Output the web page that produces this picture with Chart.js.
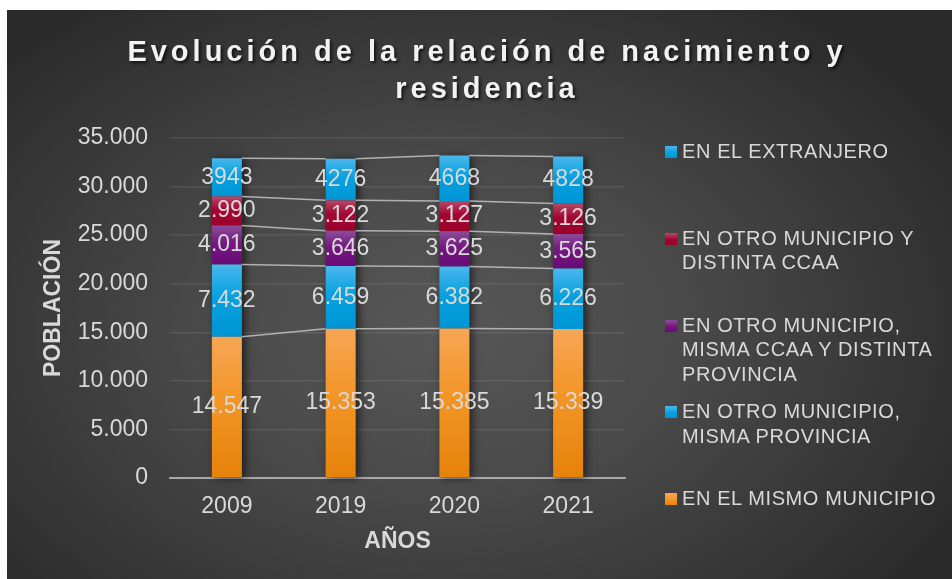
<!DOCTYPE html>
<html>
<head>
<meta charset="utf-8">
<script src="https://cdn.jsdelivr.net/npm/chart.js@4.4.1/dist/chart.umd.min.js"></script>
<style>
  html, body { margin: 0; padding: 0; background: #ffffff; }
  #wrap { position: relative; width: 952px; height: 579px; overflow: hidden; font-family: "Liberation Sans", Arial, sans-serif; }
  #panel { position: absolute; left: 7px; top: 10px; right: 0; bottom: 0;
    background: radial-gradient(ellipse 62% 70% at 46% 56%, #575757 0%, #4a4a4a 40%, #2b2b2b 100%); }
  #cv { position: absolute; left: 0; top: 0; width: 952px; height: 579px; }
  #title { position: absolute; left: 107px; width: 760px; top: 32.5px; text-align: center;
    font-weight: bold; font-size: 29px; line-height: 37px; letter-spacing: 4px; color: #f2f2f2;
    text-shadow: 2px 2px 3px rgba(0,0,0,0.65); }
  #legend { position: absolute; left: 665px; top: 139px; width: 287px; display: grid;
    grid-auto-rows: 86.8px; align-items: start; }
  .item { display: flex; align-items: flex-start; }
  .mk { width: 12px; height: 12px; margin-top: 7px; margin-right: 5px; flex: 0 0 12px; }
  .tx { color: #d9d9d9; font-size: 20px; line-height: 24.5px; letter-spacing: 0.6px; width: 268px; }
</style>
</head>
<body>
<div id="wrap">
  <div id="panel"></div>
  <canvas id="cv" width="952" height="579"></canvas>
  <div id="title"></div>
  <div id="legend"></div>
</div>
<script>
const chartTitle = 'Evolución de la relación de nacimiento y residencia';
const categories = ['2009', '2019', '2020', '2021'];
const seriesNames = [
  'EN EL MISMO MUNICIPIO',
  'EN OTRO MUNICIPIO, MISMA PROVINCIA',
  'EN OTRO MUNICIPIO, MISMA CCAA Y DISTINTA PROVINCIA',
  'EN OTRO MUNICIPIO Y DISTINTA CCAA',
  'EN EL EXTRANJERO'
];
const mismoMunicipio = [14547, 15353, 15385, 15339];
const mismaProvincia = [7432, 6459, 6382, 6226];
const mismaCcaa = [4016, 3646, 3625, 3565];
const distintaCcaa = [2990, 3122, 3127, 3126];
const extranjero = [3943, 4276, 4668, 4828];
const yTickValues = [0, 5000, 10000, 15000, 20000, 25000, 30000, 35000];
const xAxisTitle = 'AÑOS';
const yAxisTitle = 'POBLACIÓN';

const seriesValues = [mismoMunicipio, mismaProvincia, mismaCcaa, distintaCcaa, extranjero];
const useSeparator = [true, true, true, true, false];
const palettes = [
  ['#f6a655', '#f39526', '#e5820a'],
  ['#4ab7ec', '#06a1e0', '#0095d5'],
  ['#8c4d9a', '#74197f', '#690a77'],
  ['#b5496a', '#a30533', '#9b002b'],
  ['#4ab7ec', '#06a1e0', '#0095d5']
];

function fmt(v, sep) {
  const s = String(Math.round(v));
  return sep ? s.replace(/\B(?=(\d{3})+(?!\d))/g, '.') : s;
}

document.getElementById('title').textContent = chartTitle;

// HTML legend (reverse order, like the stack)
const legendEl = document.getElementById('legend');
for (let k = seriesNames.length - 1; k >= 0; k--) {
  const it = document.createElement('div'); it.className = 'item';
  const mk = document.createElement('div'); mk.className = 'mk';
  mk.style.background = 'linear-gradient(' + palettes[k][0] + ',' + palettes[k][1] + ' 55%,' + palettes[k][2] + ')';
  const tx = document.createElement('div'); tx.className = 'tx'; tx.textContent = seriesNames[k];
  it.appendChild(mk); it.appendChild(tx); legendEl.appendChild(it);
}

function segGradient(ctx) {
  const chart = ctx.chart;
  const di = ctx.datasetIndex;
  const pal = palettes[di];
  const ys = chart.scales && chart.scales.y;
  if (ctx.type !== 'data' || !ys || !chart.chartArea) return pal[1];
  let base = 0;
  for (let k = 0; k < di; k++) base += seriesValues[k][ctx.dataIndex];
  const top = base + seriesValues[di][ctx.dataIndex];
  const y0 = ys.getPixelForValue(top), y1 = ys.getPixelForValue(base);
  if (!isFinite(y0) || !isFinite(y1) || y0 === y1) return pal[1];
  const g = chart.ctx.createLinearGradient(0, y0, 0, y1);
  g.addColorStop(0, pal[0]);
  g.addColorStop(0.45, pal[1]);
  g.addColorStop(1, pal[2]);
  return g;
}

const datasets = seriesNames.map((name, i) => ({
  label: name,
  data: seriesValues[i],
  backgroundColor: segGradient,
  borderWidth: 0,
  barPercentage: 0.264,
  categoryPercentage: 1.0
}));

const shadowPlugin = {
  id: 'barShadow',
  beforeDatasetsDraw(chart) {
    const ctx = chart.ctx;
    const first = chart.getDatasetMeta(0).data;
    const last = chart.getDatasetMeta(chart.data.datasets.length - 1).data;
    ctx.save();
    ctx.shadowColor = 'rgba(0,0,0,0.6)';
    ctx.shadowBlur = 8;
    ctx.shadowOffsetX = 3;
    ctx.shadowOffsetY = 1;
    ctx.fillStyle = '#3a3a3a';
    first.forEach((el, i) => {
      const top = last[i].y, bottom = el.base;
      ctx.fillRect(el.x - el.width / 2, top, el.width, bottom - top);
    });
    ctx.restore();
  }
};

const seriesLinesPlugin = {
  id: 'seriesLines',
  afterDatasetsDraw(chart) {
    const ctx = chart.ctx;
    ctx.save();
    ctx.strokeStyle = 'rgba(195,195,195,0.85)';
    ctx.lineWidth = 1.5;
    chart.data.datasets.forEach((ds, di) => {
      const els = chart.getDatasetMeta(di).data;
      for (let i = 0; i < els.length - 1; i++) {
        const a = els[i], b = els[i + 1];
        ctx.beginPath();
        ctx.moveTo(a.x + a.width / 2, a.y);
        ctx.lineTo(b.x - b.width / 2, b.y);
        ctx.stroke();
      }
    });
    ctx.restore();
  }
};

const labelsPlugin = {
  id: 'segLabels',
  afterDatasetsDraw(chart) {
    const ctx = chart.ctx;
    ctx.save();
    ctx.font = '23px "Liberation Sans", Arial, sans-serif';
    ctx.fillStyle = '#d9d9d9';
    ctx.textAlign = 'center';
    ctx.textBaseline = 'middle';
    chart.data.datasets.forEach((ds, di) => {
      const els = chart.getDatasetMeta(di).data;
      els.forEach((el, i) => {
        ctx.fillText(fmt(ds.data[i], useSeparator[di]), el.x, (el.y + el.base) / 2);
      });
    });
    ctx.restore();
  }
};

new Chart(document.getElementById('cv'), {
  type: 'bar',
  data: { labels: categories, datasets },
  options: {
    responsive: false,
    animation: false,
    devicePixelRatio: 1,
    layout: { padding: { left: 40, top: 138, right: 327, bottom: 24 } },
    plugins: { legend: { display: false }, tooltip: { enabled: false }, title: { display: false } },
    scales: {
      x: {
        stacked: true,
        grid: { display: false, drawTicks: false },
        border: { display: true, color: '#a9a9a9', width: 2 },
        ticks: { color: '#d9d9d9', padding: 15, font: { size: 23, family: '"Liberation Sans", Arial, sans-serif' } },
        title: { display: true, text: xAxisTitle, color: '#d9d9d9', padding: { top: 0, bottom: 0 },
          font: { size: 23, weight: 'bold', family: '"Liberation Sans", Arial, sans-serif' } },
        afterFit(scale) { scale.height = 77; }
      },
      y: {
        stacked: true,
        min: 0,
        max: 35000,
        afterBuildTicks(scale) { scale.ticks = yTickValues.map(v => ({ value: v })); },
        grid: { drawTicks: false, lineWidth: 1.5,
          color: (c) => (c.tick && c.tick.value === 0) ? 'rgba(0,0,0,0)' : 'rgba(255,255,255,0.09)' },
        border: { display: false },
        ticks: { color: '#d9d9d9', padding: 22, callback: (v) => fmt(v, true),
          font: { size: 23, family: '"Liberation Sans", Arial, sans-serif' } },
        title: { display: true, text: yAxisTitle, color: '#d9d9d9', padding: { top: 0, bottom: 0 },
          font: { size: 23, weight: 'bold', family: '"Liberation Sans", Arial, sans-serif' } },
        afterFit(scale) { scale.width = 130; }
      }
    }
  },
  plugins: [shadowPlugin, seriesLinesPlugin, labelsPlugin]
});
</script>
</body>
</html>
